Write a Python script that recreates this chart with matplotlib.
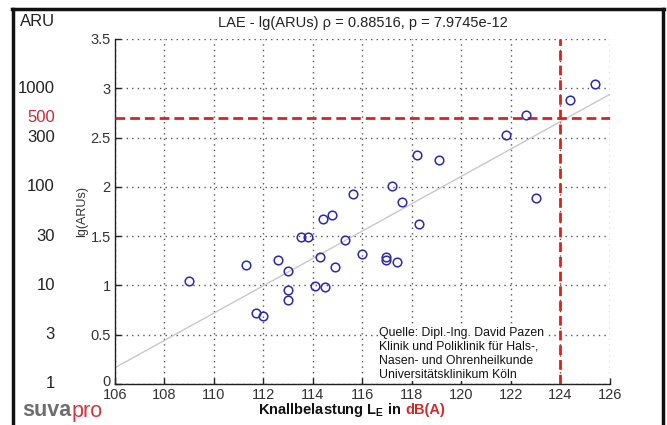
import matplotlib
matplotlib.use("Agg")
import matplotlib.pyplot as plt
import matplotlib.transforms as mtransforms
from matplotlib.lines import Line2D

plt.rcParams['font.family'] = ['Liberation Sans', 'DejaVu Sans']
plt.rcParams['mathtext.fontset'] = 'custom'
plt.rcParams['mathtext.rm'] = 'Liberation Sans'
plt.rcParams['mathtext.bf'] = 'Liberation Sans:bold'

# ---- data ----
lae = [109.0, 111.3, 111.7, 112.0, 112.6, 113.0, 113.0, 113.0, 113.5, 113.8,
       114.1, 114.3, 114.4, 114.5, 114.75, 114.9, 115.3, 115.6, 116.0, 116.95,
       116.95, 117.2, 117.4, 117.6, 118.2, 118.3, 119.1, 121.8, 122.6, 123.0,
       124.4, 125.4]
lg_arus = [1.05, 1.21, 0.72, 0.69, 1.26, 1.15, 0.95, 0.85, 1.49, 1.49,
           0.99, 1.29, 1.67, 0.98, 1.71, 1.19, 1.46, 1.93, 1.32, 1.29,
           1.26, 2.01, 1.24, 1.85, 2.32, 1.62, 2.27, 2.53, 2.73, 1.89,
           2.88, 3.04]
fit_x = [106, 126]
fit_y = [0.165, 2.94]
limit_aru_lg = 2.699   # lg(500)
limit_lae = 124

x_ticks = [106, 108, 110, 112, 114, 116, 118, 120, 122, 124, 126]
y_ticks = [0, 0.5, 1, 1.5, 2, 2.5, 3, 3.5]
y_ticklabels = ['0', '0.5', '1', '1.5', '2', '2.5', '3', '3.5']
aru_labels = ['1', '3', '10', '30', '100', '300', '1000']
aru_pos = [0, 0.5, 1, 1.5, 2, 2.5, 3]

title = "LAE - lg(ARUs) \u03c1 = 0.88516, p = 7.9745e-12"
source_lines = ["Quelle: Dipl.-Ing. David Pazen",
                "Klinik und Poliklinik f\u00fcr Hals-,",
                "Nasen- und Ohrenheilkunde",
                "Universit\u00e4tsklinikum K\u00f6ln"]

W, H = 667, 425
fig = plt.figure(figsize=(W / 100, H / 100), dpi=100)
fig.patch.set_facecolor('white')
ax = fig.add_axes([115 / W, 1 - 384 / H, (610 - 115) / W, (384 - 39) / H])

ax.set_xlim(106, 126)
ax.set_ylim(0, 3.5)
ax.set_xticks(x_ticks)
ax.set_yticks(y_ticks)
ax.set_yticklabels(y_ticklabels)
for s in ['top', 'right']:
    ax.spines[s].set_visible(False)
for s in ['left', 'bottom']:
    ax.spines[s].set_linewidth(1.0)
    ax.spines[s].set_color('#222222')
ax.tick_params(direction='in', length=4, width=1, colors='#222222',
               labelcolor='#333333', labelsize=10.5)
ax.tick_params(axis='x', pad=3)
ax.tick_params(axis='y', pad=3)
ax.grid(True, linestyle=(0, (1, 3)), color='#555555', linewidth=1.0)
ax.set_axisbelow(True)
# MATLAB-style: the "0" label sits a little higher
ax.get_yticklabels()[0].set_transform(
    ax.get_yticklabels()[0].get_transform() + mtransforms.ScaledTranslation(0, 3 / 100, fig.dpi_scale_trans))

# regression line
ax.plot(fit_x, fit_y, color='#c8c8c8', linewidth=1.0, zorder=2)
# limit lines
ax.axhline(limit_aru_lg, color='#e02020', linewidth=2.0, linestyle=(0, (3.5, 1.8)), zorder=3)
ax.axvline(limit_lae, color='#e02020', linewidth=2.0, linestyle=(0, (3.5, 1.8)), zorder=3)
# points
ax.plot(lae, lg_arus, linestyle='none', marker='o', markersize=6.2,
        markerfacecolor='none', markeredgecolor='#2a2ab0', markeredgewidth=1.1, zorder=4)

ax.set_title(title, fontsize=10.5, color='#222222', pad=9)
ax.set_ylabel('lg(ARUs)', fontsize=9, color='#333333', labelpad=2)

# ARU secondary labels on the left
trans = mtransforms.blended_transform_factory(fig.transFigure, ax.transData)
for lab, pos in zip(aru_labels, aru_pos):
    fig.text(55 / W, pos, lab, transform=trans, ha='right', va='center',
             fontsize=12, color='#222222')
fig.text(55 / W, limit_aru_lg, '500', transform=trans, ha='right', va='center',
         fontsize=12, color='#d42a2a')
fig.text(20 / W, 1 - 22 / H, 'ARU', ha='left', va='center', fontsize=12, color='#222222')

# source text
ax.text(116.67, 0.5, "\n".join(source_lines), ha='left', va='top', fontsize=8.8,
        color='#111111', linespacing=1.22, zorder=5,
        transform=mtransforms.offset_copy(ax.transData, fig=fig, x=0, y=8, units='dots'),
        bbox=dict(facecolor='white', edgecolor='none', pad=0.5))

# x label (black part + red part)
fig.text(401 / W, 1 - 410 / H, r"Knallbelastung $\mathbf{L_E}$ in", ha='right', va='center',
         fontsize=10.5, fontweight='bold', color='#111111')
fig.text(405 / W, 1 - 410 / H, "dB(A)", ha='left', va='center',
         fontsize=10.5, fontweight='bold', color='#d42a2a')

# suvapro logo text
t1 = fig.text(22 / W, 1 - 411 / H, "suva", ha='left', va='center', fontsize=15.5,
              fontweight='bold', color='#6e6e6e')
fig.canvas.draw()
bb = t1.get_window_extent(renderer=fig.canvas.get_renderer())
fig.text(bb.x1 / W, 1 - 411 / H, "pro", ha='left', va='center', fontsize=15.5,
         color='#d8363a')

# outer frame
fig.add_artist(Line2D([13 / W, 13 / W], [0, 1 - 9 / H], transform=fig.transFigure,
                      color='#111111', linewidth=2.5))
fig.add_artist(Line2D([12 / W, 664 / W], [1 - 9 / H, 1 - 9 / H], transform=fig.transFigure,
                      color='#111111', linewidth=2.5))
fig.add_artist(Line2D([663 / W, 663 / W], [0, 1 - 9 / H], transform=fig.transFigure,
                      color='#111111', linewidth=2.5))

fig.savefig('out.png', dpi=100, facecolor='white')
